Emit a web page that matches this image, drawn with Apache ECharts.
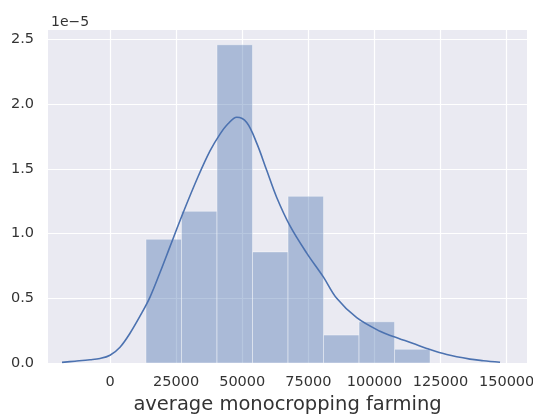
<!DOCTYPE html>
<html>
<head>
<meta charset="utf-8">
<title>average monocropping farming</title>
<script src="https://cdn.jsdelivr.net/npm/echarts@6/dist/echarts.min.js"></script>
<style>
  html, body { margin: 0; padding: 0; background: #ffffff; }
  #chart { width: 533px; height: 414px; }
</style>
</head>
<body>
<div id="chart"></div>
<script>
// Histogram bin edges (farming value) and density heights, in units of 1e-5
const binEdges = [13600, 27030, 40460, 53890, 67320, 80750, 94180, 107610, 121040];
const binDensity = [0.957, 1.173, 2.461, 0.859, 1.289, 0.216, 0.319, 0.106];

// Kernel density estimate of the same values, in units of 1e-5
const kdeX = [-18150, -13240, -7560, -3780, 0, 3780, 7560, 11990, 15130, 18910,
  22690, 27610, 33280, 37820, 41600, 44630, 47920, 51700, 55480, 59260,
  63050, 68080, 74390, 80670, 85740, 93300, 102110, 107150, 114710, 119780,
  127340, 136150, 141180, 147500];
const kdeY = [0.005, 0.014, 0.025, 0.035, 0.060, 0.122, 0.230, 0.386, 0.510, 0.700,
  0.900, 1.160, 1.440, 1.640, 1.770, 1.850, 1.900, 1.860, 1.700, 1.490,
  1.280, 1.060, 0.850, 0.666, 0.500, 0.350, 0.245, 0.205, 0.150, 0.112,
  0.065, 0.030, 0.018, 0.006];

// Axis ticks
const xTicks = [0, 25000, 50000, 75000, 100000, 125000, 150000];
const yTicks = [0, 0.5, 1.0, 1.5, 2.0, 2.5];

const barData = binDensity.map((h, i) => [binEdges[i], binEdges[i + 1], h]);
const lineData = kdeX.map((x, i) => [x, kdeY[i]]);

const textColor = '#333333';
const font = 'DejaVu Sans';

const chart = echarts.init(document.getElementById('chart'), null, { renderer: 'canvas' });
chart.setOption({
  animation: false,
  backgroundColor: '#ffffff',
  title: {
    text: '1e\u22125',
    left: 46,
    top: 10,
    textStyle: { fontFamily: font, fontSize: 14, fontWeight: 'normal', color: textColor }
  },
  grid: {
    left: 48, right: 6, top: 30, bottom: 51,
    outerBoundsMode: 'none',
    containLabel: false,
    show: true, backgroundColor: '#EAEAF2', borderWidth: 0
  },
  xAxis: {
    type: 'value',
    min: -23450,
    max: 157700,
    name: 'average monocropping farming',
    nameLocation: 'middle',
    nameGap: 31,
    nameTextStyle: { fontFamily: font, fontSize: 19.5, color: textColor },
    axisLine: { show: false },
    axisTick: { show: false, customValues: xTicks },
    axisLabel: {
      customValues: xTicks,
      margin: 12,
      fontFamily: font, fontSize: 14.5, color: textColor,
      formatter: v => String(v)
    },
    splitLine: { show: true, lineStyle: { color: '#ffffff', width: 1.2 } }
  },
  yAxis: {
    type: 'value',
    min: 0,
    max: 2.575,
    axisLine: { show: false },
    axisTick: { show: false, customValues: yTicks },
    axisLabel: {
      customValues: yTicks,
      margin: 14,
      fontFamily: font, fontSize: 14.5, color: textColor,
      formatter: v => v.toFixed(1)
    },
    splitLine: { show: true, lineStyle: { color: '#ffffff', width: 1.2 } }
  },
  series: [
    {
      type: 'custom',
      data: barData,
      encode: { x: [0, 1], y: 2 },
      renderItem: (params, api) => {
        const p0 = api.coord([api.value(0), api.value(2)]);
        const p1 = api.coord([api.value(1), 0]);
        return {
          type: 'rect',
          shape: { x: p0[0], y: p0[1], width: p1[0] - p0[0], height: p1[1] - p0[1] },
          style: {
            fill: 'rgba(76,114,176,0.4)',
            stroke: 'rgba(255,255,255,0.4)',
            lineWidth: 1
          }
        };
      },
      z: 2
    },
    {
      type: 'line',
      data: lineData,
      smooth: 0.35,
      showSymbol: false,
      lineStyle: { color: '#4C72B0', width: 1.6 },
      z: 3
    }
  ]
});
</script>
</body>
</html>
